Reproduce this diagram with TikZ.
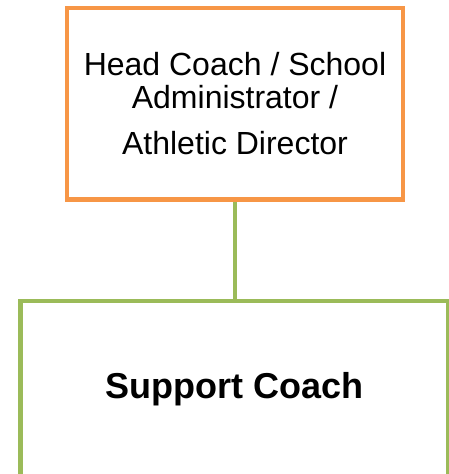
\documentclass[tikz,border=0pt]{standalone}
\usepackage{fontspec}
\setmainfont{Liberation Sans}
\usetikzlibrary{positioning}

\definecolor{boxorange}{HTML}{F79646}
\definecolor{boxgreen}{HTML}{9BBB59}

\tikzset{
	rolebox/.style={draw, rectangle, line width=4.5pt, align=center, inner sep=0pt},
	link/.style={draw=boxgreen, line width=4.5pt}
}

\begin{document}
\begin{tikzpicture}[x=1pt, y=-1pt]
\useasboundingbox (0, 0) rectangle (449, 474);

% head coach box
\node[rolebox, draw=boxorange, minimum width=336pt, minimum height=191.5pt,
	font=\fontsize{32}{32.7}\selectfont] (head) at (235, 103.75)
	{Head Coach / School\\Administrator /\\[13.6pt]Athletic Director};

% support coach box, its bottom runs off the page
\node[rolebox, draw=boxgreen, minimum width=427.5pt, minimum height=177pt,
	font=\fontsize{36}{40}\selectfont\bfseries] (support) at (234.25, 389.5)
	{Support Coach};

\draw[link] (head.south) -- (head.south |- support.north);
\end{tikzpicture}
\end{document}
